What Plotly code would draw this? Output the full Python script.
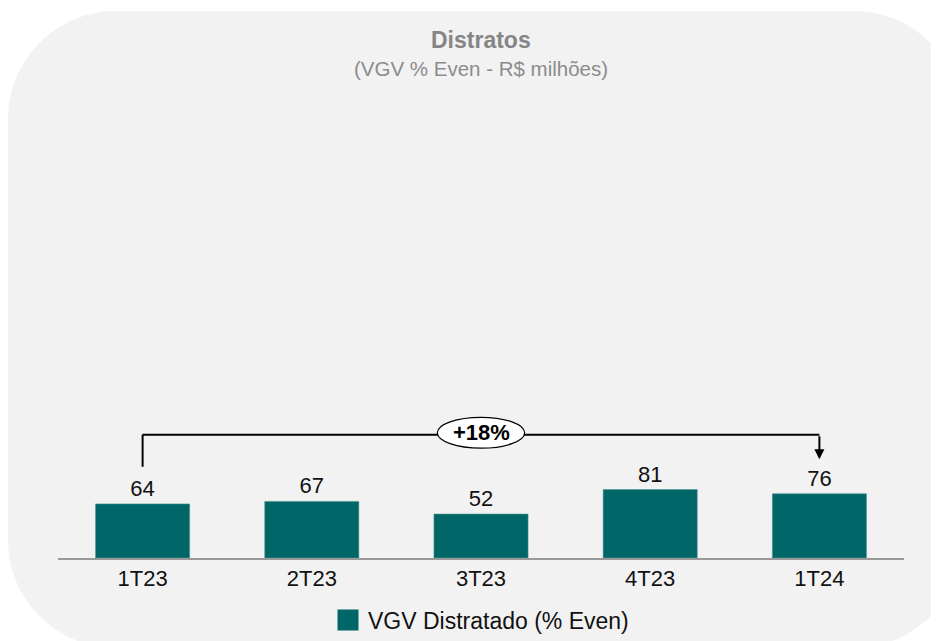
import plotly.graph_objects as go

# ---- data ----
categories = ["1T23", "2T23", "3T23", "4T23", "1T24"]
values = [64, 67, 52, 81, 76]
series_name = "VGV Distratado (% Even)"
change_label = "+18%"
title_text = "Distratos"
subtitle_text = "(VGV % Even - R$ milhões)"

# ---- style ----
OFF = 8                      # page body margin
W, H = 939 - OFF, 641 - OFF
ML, MR, MT, MB = 50, 35, 92, 83
BAR_COLOR = "#006668"
BG_COLOR = "#f2f2f2"
FONT = "Liberation Sans, Arial, sans-serif"
YMAX = 542

PW = W - ML - MR
PH = H - MT - MB


def px(x, y):
    """screen pixel -> paper coordinates"""
    x -= OFF
    y -= OFF
    return (x - ML) / PW, (H - MB - y) / PH


def rounded_rect_path(l, t, r, b, rad):
    k = 0.5523 * rad

    def P(x, y):
        xp, yp = px(x, y)
        return f"{xp:.5f},{yp:.5f}"
    d = f"M {P(l + rad, t)} L {P(r - rad, t)} "
    d += f"C {P(r - rad + k, t)} {P(r, t + rad - k)} {P(r, t + rad)} "
    d += f"L {P(r, b - rad)} "
    d += f"C {P(r, b - rad + k)} {P(r - rad + k, b)} {P(r - rad, b)} "
    d += f"L {P(l + rad, b)} "
    d += f"C {P(l + rad - k, b)} {P(l, b - rad + k)} {P(l, b - rad)} "
    d += f"L {P(l, t + rad)} "
    d += f"C {P(l, t + rad - k)} {P(l + rad - k, t)} {P(l + rad, t)} Z"
    return d


fig = go.Figure()
fig.add_trace(go.Bar(
    x=categories, y=values, name=series_name,
    marker=dict(color=BAR_COLOR, line=dict(color="#4c9596", width=0.6)),
    text=[str(v) for v in values], textposition="outside",
    textfont=dict(size=22, color="#111111", family=FONT),
    cliponaxis=False, showlegend=False,
))
# legend entry
fig.add_trace(go.Scatter(
    x=[None], y=[None], mode="markers", name=series_name,
    marker=dict(symbol="square", size=16, color=BAR_COLOR,
                line=dict(color=BAR_COLOR, width=5)),
    showlegend=True,
))

# bracket geometry derived from data
y_br = max(values) + 65
y_start = values[0] + 44
y_tip = values[-1] + 41
i0, i1 = 0, len(categories) - 1
imid = (i0 + i1) / 2

shapes = [
    dict(type="path", xref="paper", yref="paper", layer="below",
         path=rounded_rect_path(8, 11, 962, 648, 108),
         fillcolor=BG_COLOR, line=dict(width=0)),
    dict(type="line", xref="x", yref="y", x0=i0, x1=i0, y0=y_start, y1=y_br,
         line=dict(color="black", width=2)),
    dict(type="line", xref="x", yref="y", x0=i0, x1=i1, y0=y_br, y1=y_br,
         line=dict(color="black", width=2)),
    dict(type="circle", xref="x", yref="y", x0=imid - 0.258, x1=imid + 0.258,
         y0=y_br - 16, y1=y_br + 20.5, fillcolor="white",
         line=dict(color="black", width=1.2)),
]

annotations = [
    dict(x=i1, y=y_tip, ax=i1, ay=y_br, xref="x", yref="y", axref="x", ayref="y",
         text="", showarrow=True, arrowhead=2, arrowsize=1, arrowwidth=2,
         arrowcolor="black"),
    dict(x=imid, y=y_br + 2.2, xref="x", yref="y", text=f"<b>{change_label}</b>",
         showarrow=False, font=dict(size=22, color="black", family=FONT)),
    dict(x=0.5, y=px(0, 40)[1], xref="paper", yref="paper",
         text=f"<b>{title_text}</b>",
         showarrow=False, yanchor="middle",
         font=dict(size=23, color="#858585", family=FONT)),
    dict(x=0.5, y=px(0, 68)[1], xref="paper", yref="paper", text=subtitle_text,
         showarrow=False, yanchor="middle",
         font=dict(size=20.5, color="#8c8c8c", family=FONT)),
]

fig.update_layout(
    width=W, height=H,
    margin=dict(l=ML, r=MR, t=MT, b=MB, pad=0, autoexpand=False),
    paper_bgcolor="white", plot_bgcolor="rgba(0,0,0,0)",
    font=dict(family=FONT, color="#111111"),
    bargap=0.444,
    shapes=shapes, annotations=annotations,
    showlegend=True,
    legend=dict(orientation="h", x=0.5, xanchor="center",
                y=px(0, 620)[1], yanchor="middle",
                font=dict(size=23, color="#111111", family=FONT),
                bgcolor="rgba(0,0,0,0)"),
    xaxis=dict(showline=True, linecolor="#9a9a9a", linewidth=1.5,
               showgrid=False, zeroline=False, ticks="",
               tickfont=dict(size=22, color="#111111", family=FONT),
               range=[-0.5, len(categories) - 0.5], fixedrange=True),
    yaxis=dict(visible=False, range=[0, YMAX], showgrid=False, zeroline=False,
               fixedrange=True),
)

fig.write_html("out.html", config={"displayModeBar": False})
